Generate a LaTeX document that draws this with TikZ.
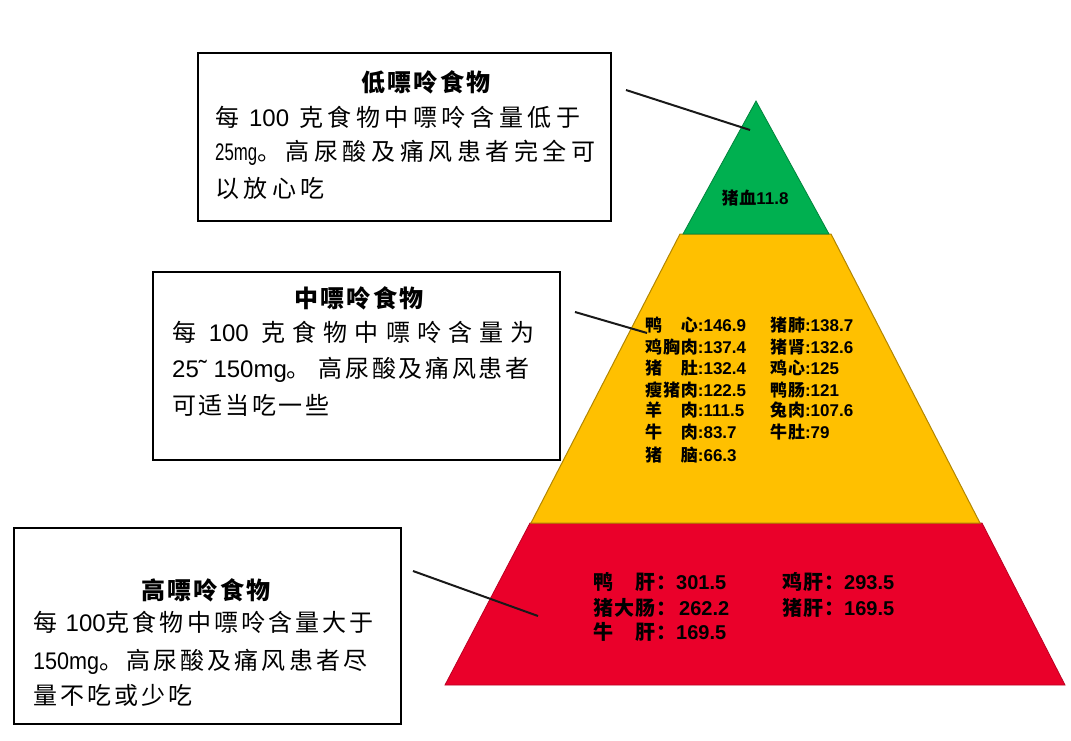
\documentclass[tikz,border=0pt]{standalone}
\usepackage{graphicx}
\usepackage{fontspec}
\setmainfont{Liberation Sans}
\newfontfamily\lat{Liberation Sans}
\newfontfamily\cjkT[LetterSpace=19]{Noto Sans CJK SC}
\newfontfamily\cjkM[LetterSpace=30]{Noto Sans CJK SC}
\newfontfamily\cjkN[LetterSpace=11]{Noto Sans CJK SC}
\newfontfamily\cjkB[LetterSpace=13]{Noto Sans CJK SC}
\newfontfamily\cjkH[LetterSpace=10]{Noto Sans CJK SC}
\newfontfamily\cjkL[LetterSpace=5]{Noto Sans CJK SC}
\definecolor{pgreen}{RGB}{0,176,80}
\definecolor{pyellow}{RGB}{255,192,0}
\definecolor{pred}{RGB}{234,0,42}
\newcommand\nm[1]{{\lat\bfseries #1}}
\newcommand\nr[1]{{\lat #1}}
\tikzset{
  box/.style={draw=black, line width=1.6pt, fill=white, inner sep=0pt},
  body/.style={inner sep=0pt, anchor=west, font=\fontsize{24}{28}\selectfont},
  ttl/.style={inner sep=0pt, anchor=center, font=\cjkH\bfseries\fontsize{24}{28}\selectfont},
  labm/.style={inner sep=0pt, anchor=west, font=\cjkL\bfseries\fontsize{17}{20}\selectfont},
  labr/.style={inner sep=0pt, anchor=west, font=\cjkL\bfseries\fontsize{20}{24}\selectfont},
  conn/.style={line width=2pt, draw=black!90},
}
\begin{document}
\begin{tikzpicture}[x=1pt,y=-1pt]
\fill[white] (0,0) rectangle (1071,741);
\useasboundingbox (0,0) rectangle (1071,741);

% pyramid
\filldraw[fill=pred, draw=pred!80!black, line width=0.8pt]
  (530,523) -- (982,523) -- (1065,685) -- (445,685) -- cycle;
\filldraw[fill=pyellow, draw=pyellow!70!black, line width=1pt]
  (680,234) -- (831,234) -- (980,523) -- (531,523) -- cycle;
\filldraw[fill=pgreen, draw=pgreen!75!black, line width=0.8pt]
  (756,101) -- (829,234) -- (683,234) -- cycle;

% boxes
\node[box, minimum width=413pt, minimum height=168pt] (lowbox) at (404.5,137) {};
\node[box, minimum width=407pt, minimum height=188pt] (midbox) at (356.5,366) {};
\node[box, minimum width=387pt, minimum height=196pt] (highbox) at (207.5,626) {};

% top box text
\node[ttl] (lowt) at (426,82) {低嘌呤食物};
\node[body] (low1) at (215,117) {\cjkT 每 \nr{100} 克食物中嘌呤含量低于};
\node[body] (low2) at (215,153) {\cjkT\scalebox{0.7}[1]{\nr{25mg}}。高尿酸及痛风患者完全可};
\node[body] (low3) at (215,188) {\cjkT 以放心吃};

% middle box text
\node[ttl] (midt) at (359,298) {中嘌呤食物};
\node[body] (mid1) at (172,332) {\cjkM 每 \nr{100} 克食物中嘌呤含量为};
\node[body] (mid2) at (172,370) {\cjkN\nr{25˜ 150mg}。 高尿酸及痛风患者};
\node[body] (mid3) at (172,405) {\cjkN 可适当吃一些};

% bottom box text
\node[ttl] (hight) at (206,590) {高嘌呤食物};
\node[body] (high1) at (33,622) {\cjkB 每 \nr{100}克食物中嘌呤含量大于};
\node[body] (high2) at (33,662) {\cjkB\scalebox{0.9}[1]{\nr{150mg}}。高尿酸及痛风患者尽};
\node[body] (high3) at (33,695) {\cjkB 量不吃或少吃};

% connectors
\coordinate (c1s) at (626,90);  \coordinate (c1e) at (750,130);
\coordinate (c2s) at (575,312); \coordinate (c2e) at (647,333);
\coordinate (c3s) at (413,571); \coordinate (c3e) at (538,616);
\draw[conn] (c1s) -- (c1e);
\draw[conn] (c2s) -- (c2e);
\draw[conn] (c3s) -- (c3e);

% green tier
\node[labm, anchor=center] (g1) at (755,198) {猪血\nm{11.8}};

% yellow tier
\node[labm] (y1) at (645,325) {鸭　心\nm{:146.9}};
\node[labm] (y2) at (645,347) {鸡胸肉\nm{:137.4}};
\node[labm] (y3) at (645,368) {猪　肚\nm{:132.4}};
\node[labm] (y4) at (645,390) {瘦猪肉\nm{:122.5}};
\node[labm] (y5) at (645,410) {羊　肉\nm{:111.5}};
\node[labm] (y6) at (645,432) {牛　肉\nm{:83.7}};
\node[labm] (y7) at (645,455) {猪　脑\nm{:66.3}};
\node[labm] (y8) at (770,325) {猪肺\nm{:138.7}};
\node[labm] (y9) at (770,347) {猪肾\nm{:132.6}};
\node[labm] (y10) at (770,368) {鸡心\nm{:125}};
\node[labm] (y11) at (770,390) {鸭肠\nm{:121}};
\node[labm] (y12) at (770,410) {兔肉\nm{:107.6}};
\node[labm] (y13) at (770,432) {牛肚\nm{:79}};

% red tier
\node[labr] (r1) at (593,582) {鸭　肝：\nm{301.5}};
\node[labr] (r2) at (593,608) {猪大肠：\hspace{3pt}\nm{262.2}};
\node[labr] (r3) at (593,632) {牛　肝：\nm{169.5}};
\node[labr] (r4) at (782,582) {鸡肝：\nm{293.5}};
\node[labr] (r5) at (782,608) {猪肝：\nm{169.5}};
\end{tikzpicture}
\end{document}
